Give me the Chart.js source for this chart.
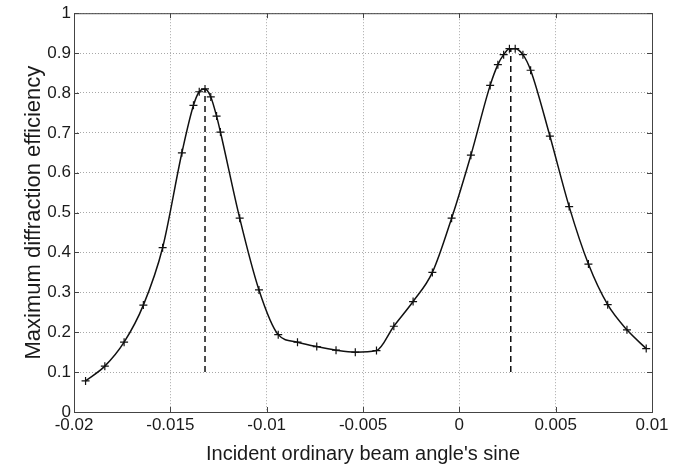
<!DOCTYPE html>
<html>
<head>
<meta charset="utf-8">
<script src="https://cdn.jsdelivr.net/npm/chart.js@4/dist/chart.umd.min.js"></script>
<style>
  html, body { margin: 0; padding: 0; background: #fff; }
  #wrap { width: 683px; height: 466px; }
</style>
</head>
<body>
<div id="wrap"><canvas id="c" width="683" height="466"></canvas></div>
<script>
// Sine of the incident angle for each measured point
const beamSine = [
  -0.0194, -0.0184, -0.0174, -0.0164, -0.0154, -0.0144, -0.0138, -0.0135, -0.0132, -0.0129,
  -0.0126, -0.0124, -0.0114, -0.0104, -0.0094, -0.0084, -0.0074, -0.0064, -0.0054, -0.0043,
  -0.0034, -0.0024, -0.0014, -0.0004, 0.0006, 0.0016, 0.0020, 0.0023, 0.0026, 0.0029,
  0.0033, 0.0037, 0.0047, 0.0057, 0.0067, 0.0077, 0.0087, 0.0097
];
// Maximum diffraction efficiency at those points
const efficiency = [
  0.078, 0.115, 0.175, 0.268, 0.412, 0.650, 0.769, 0.803, 0.810, 0.790,
  0.742, 0.702, 0.486, 0.306, 0.194, 0.175, 0.164, 0.155, 0.150, 0.154,
  0.215, 0.277, 0.350, 0.486, 0.644, 0.819, 0.871, 0.896, 0.911, 0.911,
  0.896, 0.857, 0.692, 0.515, 0.371, 0.269, 0.206, 0.159
];
// Dashed markers at both peaks: [x, yFrom, yTo]
const peakLines = [
  [-0.0132, 0.1, 0.81],
  [0.00267, 0.1, 0.911]
];
const xTicks = [-0.02, -0.015, -0.01, -0.005, 0, 0.005, 0.01];
const yTicks = [0, 0.1, 0.2, 0.3, 0.4, 0.5, 0.6, 0.7, 0.8, 0.9, 1];

const FONT = '"Liberation Sans", Arial, Helvetica, sans-serif';
const INK = '#1a1a1a';

const curve = beamSine.map((x, i) => ({ x: x, y: efficiency[i] }));

const peakSets = peakLines.map((p) => ({
  data: [{ x: p[0], y: p[1] }, { x: p[0], y: p[2] }],
  borderColor: '#111',
  borderWidth: 1.5,
  borderDash: [6, 4],
  pointRadius: 0,
  showLine: true,
}));

// box round the plot with MATLAB-style inward ticks
const frame = {
  id: 'frame',
  afterDatasetsDraw(chart) {
    const { ctx, chartArea: a, scales } = chart;
    ctx.save();
    ctx.strokeStyle = '#444';
    ctx.lineWidth = 1;
    ctx.strokeRect(a.left + 0.5, a.top + 0.5, a.right - a.left, a.bottom - a.top);
    ctx.beginPath();
    xTicks.forEach((v) => {
      const px = Math.round(scales.x.getPixelForValue(v)) + 0.5;
      ctx.moveTo(px, a.bottom); ctx.lineTo(px, a.bottom - 5);
      ctx.moveTo(px, a.top); ctx.lineTo(px, a.top + 5);
    });
    yTicks.forEach((v) => {
      const py = Math.round(scales.y.getPixelForValue(v)) + 0.5;
      ctx.moveTo(a.left, py); ctx.lineTo(a.left + 5, py);
      ctx.moveTo(a.right, py); ctx.lineTo(a.right - 5, py);
    });
    ctx.stroke();
    ctx.restore();
  },
};

new Chart(document.getElementById('c'), {
  type: 'scatter',
  data: {
    datasets: [
      {
        data: curve,
        borderColor: '#111',
        borderWidth: 1.5,
        showLine: true,
        cubicInterpolationMode: 'monotone',
        pointStyle: 'cross',
        pointRadius: 4,
        pointBorderWidth: 1.2,
        pointBorderColor: '#111',
      },
      ...peakSets,
    ],
  },
  options: {
    responsive: false,
    animation: false,
    layout: { padding: { left: 0, right: 31, top: 12, bottom: 0 } },
    plugins: { legend: { display: false }, tooltip: { enabled: false } },
    scales: {
      x: {
        type: 'linear',
        min: -0.02,
        max: 0.01,
        afterBuildTicks: (s) => { s.ticks = xTicks.map((v) => ({ value: v })); },
        afterFit: (s) => { s.height = 54; },
        ticks: {
          color: INK,
          font: { family: FONT, size: 17 },
          padding: 3,
          maxRotation: 0,
          callback: (v) => String(Number(v.toFixed(3))),
        },
        grid: { color: '#a8a8a8', lineWidth: 1, drawTicks: false },
        border: { display: false, dash: [1, 2] },
        title: {
          display: true,
          text: "Incident ordinary beam angle's sine",
          color: INK,
          font: { family: FONT, size: 20 },
          padding: { top: 0, bottom: 0 },
        },
      },
      y: {
        type: 'linear',
        min: 0,
        max: 1,
        afterBuildTicks: (s) => { s.ticks = yTicks.map((v) => ({ value: v })); },
        afterFit: (s) => { s.width = 74; },
        ticks: {
          color: INK,
          font: { family: FONT, size: 17 },
          padding: 3,
          callback: (v) => String(Number(v.toFixed(1))),
        },
        grid: { color: '#a8a8a8', lineWidth: 1, drawTicks: false },
        border: { display: false, dash: [1, 2] },
        title: {
          display: true,
          text: 'Maximum diffraction efficiency',
          color: INK,
          font: { family: FONT, size: 22 },
          padding: { top: 21, bottom: 0 },
        },
      },
    },
  },
  plugins: [frame],
});
</script>
</body>
</html>
